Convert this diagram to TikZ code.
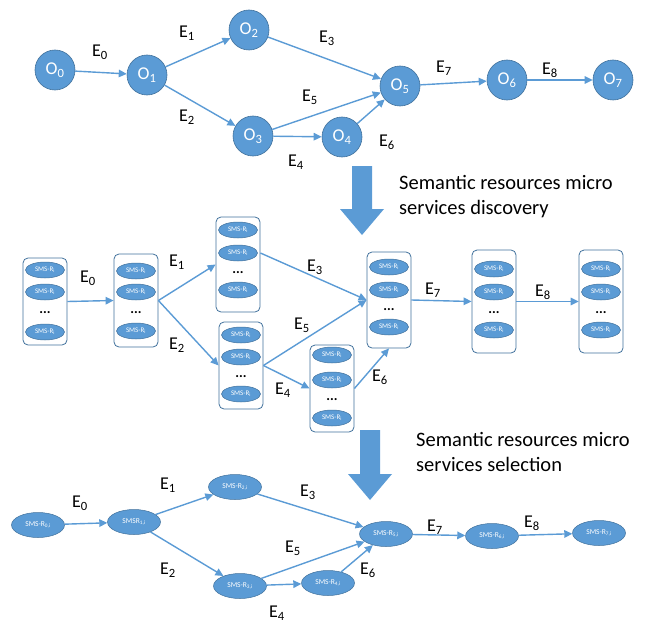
\documentclass[tikz,border=0pt]{standalone}
\usepackage{fontspec}
\setmainfont{Carlito}
\usetikzlibrary{arrows.meta,calc,shapes.geometric}
\definecolor{ob}{HTML}{5B9BD5}
\definecolor{obd}{HTML}{41719C}
\newcommand{\contbox}[8]{%
  \node[box,minimum height={#4-#3}] (#1) at (#2,{(#3+#4)/2}) {};
  \node[sms] (#1a) at (#2,#5) {SMS-R\textsubscript{i}};
  \node[sms] (#1b) at (#2,#6) {SMS-R\textsubscript{i}};
  \node[dotsn] (#1c) at (#2,#7) {...};
  \node[sms] (#1d) at (#2,#8) {SMS-R\textsubscript{i}};
}
\begin{document}
\begin{tikzpicture}[x=1pt,y=-1pt,
  obj/.style={circle,fill=ob,draw=obd,line width=0.6pt,minimum size=40pt,inner sep=0pt,text=white,font=\fontsize{18}{18}\selectfont},
  lbl/.style={font=\fontsize{18}{18}\selectfont,inner sep=0pt},
  edge/.style={draw=ob,line width=1.4pt,-{Triangle[length=8pt,width=7.5pt]}},
  box/.style={draw=obd,rounded corners=5pt,line width=0.8pt,fill=white,inner sep=0pt,minimum width=44pt},
  sms/.style={ellipse,fill=ob,draw=obd,line width=0.5pt,minimum width=39pt,minimum height=16pt,inner sep=0pt,text=white,font=\fontsize{7}{7}\selectfont},
  bsms/.style={ellipse,fill=ob,draw=obd,line width=0.5pt,minimum width=53pt,minimum height=25pt,inner sep=0pt,text=white,font=\fontsize{7.5}{7.5}\selectfont},
  dotsn/.style={inner sep=0pt,font=\bfseries\fontsize{14}{14}\selectfont},
  note/.style={anchor=west,align=left,inner sep=0pt,font=\fontsize{20.5}{25}\selectfont}
]
\useasboundingbox (0,0) rectangle (652,623);
% ---------- top graph ----------
\node[obj] (O0) at (55,70) {O\textsubscript{0}};
\node[obj] (O1) at (147,75) {O\textsubscript{1}};
\node[obj] (O2) at (249,30) {O\textsubscript{2}};
\node[obj] (O3) at (253,136) {O\textsubscript{3}};
\node[obj] (O4) at (342,137) {O\textsubscript{4}};
\node[obj] (O5) at (400,86) {O\textsubscript{5}};
\node[obj] (O6) at (507,80) {O\textsubscript{6}};
\node[obj] (O7) at (613,80) {O\textsubscript{7}};
\draw[edge] (O0) -- (O1);
\draw[edge] (O1) -- (O2);
\draw[edge] (O1) -- (O3);
\draw[edge] (O2) -- (O5);
\draw[edge] (O3) -- (O5);
\draw[edge] (O3) -- (O4);
\draw[edge] (O4) -- (O5);
\draw[edge] (O5) -- (O6);
\draw[edge] (O6) -- (O7);
\node[lbl] (t0) at (100,52) {E\textsubscript{0}};
\node[lbl] (t1) at (187,33) {E\textsubscript{1}};
\node[lbl] (t2) at (187,117) {E\textsubscript{2}};
\node[lbl] (t3) at (327,38) {E\textsubscript{3}};
\node[lbl] (t4) at (296,162) {E\textsubscript{4}};
\node[lbl] (t5) at (310,97) {E\textsubscript{5}};
\node[lbl] (t6) at (387,142) {E\textsubscript{6}};
\node[lbl] (t7) at (444,68) {E\textsubscript{7}};
\node[lbl] (t8) at (550,70) {E\textsubscript{8}};
% ---------- arrow 1 ----------
\fill[ob] (352,166) -- (372,166) -- (372,209) -- (384,209) -- (362,235) -- (340,209) -- (352,209) -- cycle;
\node[note] (disc) at (399,197) {Semantic resources micro\\services discovery};
% ---------- middle graph ----------
\contbox{A}{45}{258}{345}{270}{292}{313}{332}
\contbox{B}{136}{254}{347}{271}{292}{313}{331}
\contbox{C}{238}{217}{312}{230}{253}{273}{290}
\contbox{D}{241}{322}{409}{335}{357}{377}{394}
\contbox{E}{332}{345}{432}{355}{380}{400}{418}
\contbox{F}{389}{252}{348}{267}{290}{310}{327}
\contbox{G}{494}{250}{353}{269}{292}{313}{330}
\contbox{H}{601}{250}{353}{269}{292}{313}{330}
\draw[edge] (A.east) -- (B.west);
\draw[edge] (B.east) -- (C.west);
\draw[edge] (B.east) -- (D.west);
\draw[edge] (Cb -| C.east) -- (F.west);
\draw[edge] (D.east) -- (F.west);
\draw[edge] (D.east) -- (E.west);
\draw[edge] (E.east) -- (F.south);
\draw[edge] (F.east) -- (G.west);
\draw[edge] (G.east) -- (H.west);
\node[lbl] (m0) at (88,278) {E\textsubscript{0}};
\node[lbl] (m1) at (177,262) {E\textsubscript{1}};
\node[lbl] (m2) at (177,345) {E\textsubscript{2}};
\node[lbl] (m3) at (315,267) {E\textsubscript{3}};
\node[lbl] (m4) at (283,390) {E\textsubscript{4}};
\node[lbl] (m5) at (302,325) {E\textsubscript{5}};
\node[lbl] (m6) at (380,377) {E\textsubscript{6}};
\node[lbl] (m7) at (433,290) {E\textsubscript{7}};
\node[lbl] (m8) at (543,292) {E\textsubscript{8}};
% ---------- arrow 2 ----------
\fill[ob] (360,430) -- (380,430) -- (380,474) -- (392,474) -- (370,500) -- (348,474) -- (360,474) -- cycle;
\node[note] (sel) at (416,452) {Semantic resources micro\\services selection};
% ---------- bottom graph ----------
\node[bsms] (N0) at (38,525) {SMS-R\textsubscript{0,i}};
\node[bsms] (N1) at (134,522) {SMSR\textsubscript{1,i}};
\node[bsms] (N2) at (235,487) {SMS-R\textsubscript{2,i}};
\node[bsms] (N3) at (240,586) {SMS-R\textsubscript{3,i}};
\node[bsms] (N4) at (328,583) {SMS-R\textsubscript{4,i}};
\node[bsms] (N5) at (386,534) {SMS-R\textsubscript{5,i}};
\node[bsms] (N6) at (492,536) {SMS-R\textsubscript{6,i}};
\node[bsms] (N7) at (599,533) {SMS-R\textsubscript{7,i}};
\draw[edge] (N0) -- (N1);
\draw[edge] (N1) -- (N2);
\draw[edge] (N1) -- (N3);
\draw[edge] (N2) -- (N5);
\draw[edge] (N3) -- (N5);
\draw[edge] (N3) -- (N4);
\draw[edge] (N4) -- (N5);
\draw[edge] (N5) -- (N6);
\draw[edge] (N6) -- (N7);
\node[lbl] (b0) at (80,503) {E\textsubscript{0}};
\node[lbl] (b1) at (168,485) {E\textsubscript{1}};
\node[lbl] (b2) at (168,570) {E\textsubscript{2}};
\node[lbl] (b3) at (308,492) {E\textsubscript{3}};
\node[lbl] (b4) at (277,613) {E\textsubscript{4}};
\node[lbl] (b5) at (293,548) {E\textsubscript{5}};
\node[lbl] (b6) at (368,570) {E\textsubscript{6}};
\node[lbl] (b7) at (435,527) {E\textsubscript{7}};
\node[lbl] (b8) at (532,523) {E\textsubscript{8}};
\end{tikzpicture}
\end{document}
